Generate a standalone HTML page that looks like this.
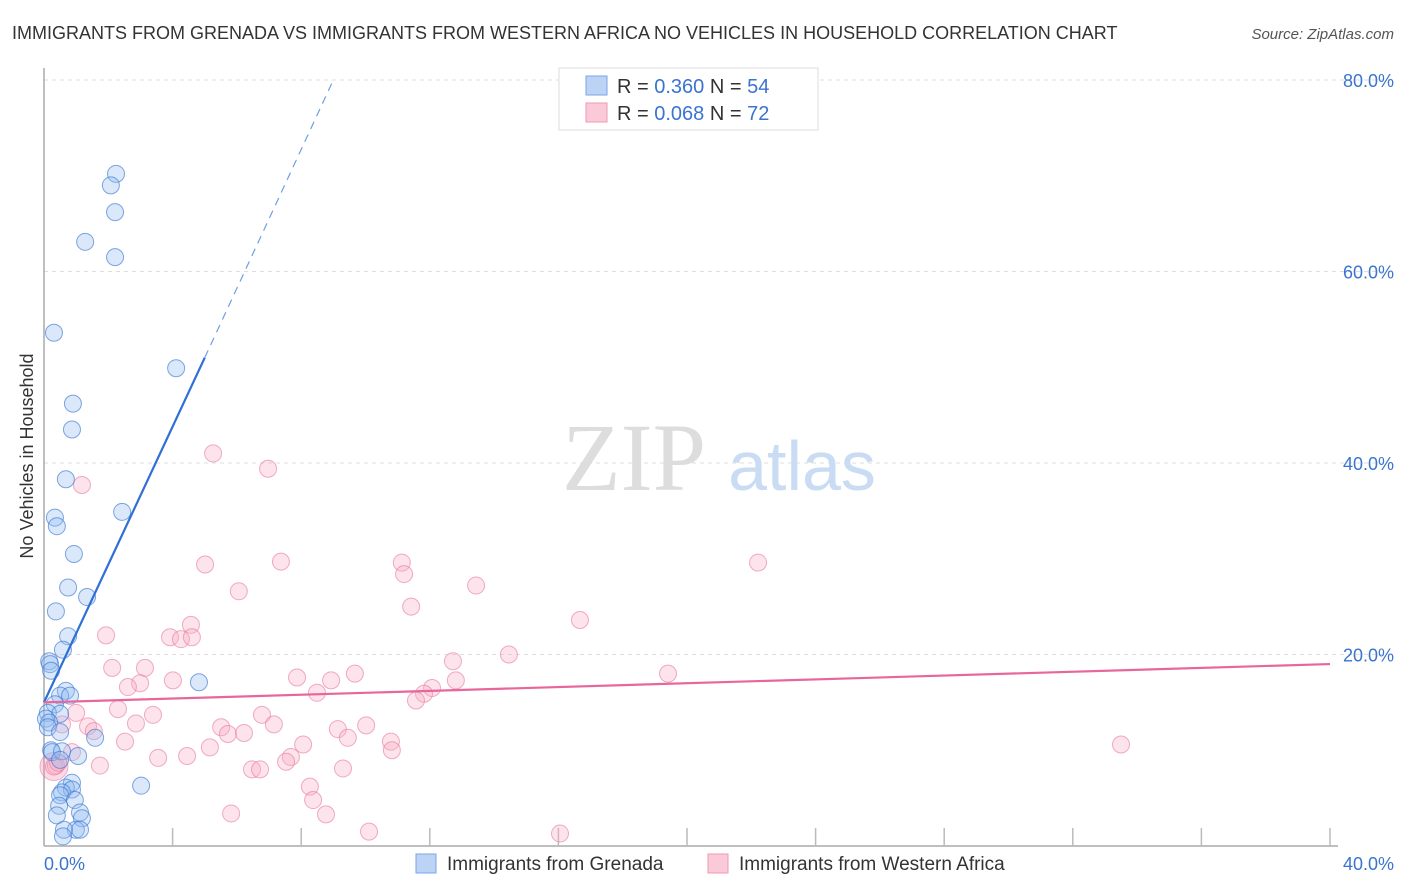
<!DOCTYPE html>
<html><head><meta charset="utf-8"><style>
body{margin:0;background:#fff;font-family:"Liberation Sans",sans-serif;}
svg{display:block}
</style></head><body>
<svg width="1406" height="892" xmlns="http://www.w3.org/2000/svg">
<text x="12" y="39" font-size="18" fill="#333">IMMIGRANTS FROM GRENADA VS IMMIGRANTS FROM WESTERN AFRICA NO VEHICLES IN HOUSEHOLD CORRELATION CHART</text>
<text x="1394" y="39" font-size="15" fill="#555" font-style="italic" text-anchor="end">Source: ZipAtlas.com</text>
<g id="grid"></g>
<text x="634" y="490" font-size="96" fill="#ddd" font-family="Liberation Serif,serif" text-anchor="middle">ZIP</text>
<text x="802" y="490" font-size="70" fill="#c9dcf3" text-anchor="middle">atlas</text>
<line x1="44" y1="68" x2="44" y2="846" stroke="#aaa" stroke-width="1.5"/>
<line x1="44" y1="846" x2="1338" y2="846" stroke="#aaa" stroke-width="1.5"/>
<g id="ticks"></g>
<g id="pts"></g>
<g id="trends"></g>
<text x="33" y="456" font-size="18" fill="#333" text-anchor="middle" transform="rotate(-90 33 456)">No Vehicles in Household</text>
<text x="44" y="870" font-size="18" fill="#3a74d0">0.0%</text>
<text x="1394" y="870" font-size="18" fill="#3a74d0" text-anchor="end">40.0%</text>
<g>
<rect x="559" y="68" width="259" height="62" fill="#fff" stroke="#ddd"/>
<rect x="586" y="76" width="21" height="19" fill="#bcd3f5" stroke="#7aa6e6"/>
<rect x="586" y="103" width="21" height="19" fill="#fbcad8" stroke="#ef9ab5"/>
<text x="617" y="93" font-size="20" fill="#333">R = <tspan fill="#3a74d0">0.360</tspan>   N = <tspan fill="#3a74d0">54</tspan></text>
<text x="617" y="120" font-size="20" fill="#333">R = <tspan fill="#3a74d0">0.068</tspan>   N = <tspan fill="#3a74d0"> 72</tspan></text>
</g>
<g>
<rect x="416" y="854" width="20" height="19" fill="#bcd3f5" stroke="#7aa6e6"/>
<text x="447" y="870" font-size="19" fill="#333">Immigrants from Grenada</text>
<rect x="708" y="854" width="20" height="19" fill="#fbcad8" stroke="#ef9ab5"/>
<text x="739" y="870" font-size="19" fill="#333">Immigrants from Western Africa</text>
</g>
</svg>
<script>
const yTicks=[20,40,60,80];
const yTickLabels=["20.0%","40.0%","60.0%","80.0%"];
const xTicks=[4,8,12,16,20,24,28,32,36,40];
const blueX=[2.24,2.08,2.21,1.28,2.21,0.31,4.11,0.90,0.87,0.68,2.43,0.34,0.40,0.93,0.75,1.34,0.37,0.75,0.59,0.16,0.19,0.22,0.68,0.50,0.81,0.34,0.12,0.50,0.06,0.16,0.12,0.50,1.59,4.82,0.22,0.25,0.56,1.06,0.50,3.02,0.87,0.68,0.87,0.56,0.50,0.96,0.47,1.12,0.40,1.18,0.99,1.12,0.62,0.59];
const blueY=[70.2,69.0,66.2,63.1,61.5,53.6,49.9,46.2,43.5,38.3,34.9,34.3,33.4,30.5,27.0,26.0,24.5,21.9,20.5,19.3,19.0,18.3,16.2,15.7,15.7,14.8,13.9,13.8,13.3,12.9,12.4,11.9,11.3,17.1,10.0,9.8,9.9,9.4,9.0,6.3,6.6,6.1,5.9,5.6,5.3,4.8,4.2,3.5,3.2,2.9,1.7,1.7,1.7,1.0];
const pinkX=[5.26,6.97,1.18,5.01,7.37,11.13,11.20,22.21,13.44,6.06,11.42,16.67,1.93,4.57,3.92,4.26,4.60,14.46,12.72,2.12,3.14,9.67,19.41,7.87,4.01,8.93,12.81,2.99,2.61,8.49,12.07,11.82,11.57,2.30,1.00,6.78,3.39,1.37,2.86,5.51,7.15,5.72,1.55,9.14,10.02,6.22,0.56,9.45,2.52,8.06,10.79,5.16,0.87,4.45,3.55,10.82,7.68,7.53,0.37,1.74,6.47,6.72,9.30,33.50,8.27,8.37,8.77,5.82,10.11,16.05,0.31,0.44];
const pinkY=[41.0,39.4,37.7,29.4,29.7,29.6,28.4,29.6,27.2,26.6,25.0,23.6,22.0,23.1,21.8,21.6,21.8,20.0,19.3,18.6,18.6,18.0,18.0,17.6,17.3,17.3,17.3,17.0,16.6,16.0,16.5,15.9,15.2,14.3,13.9,13.7,13.7,12.5,12.8,12.4,12.7,11.7,12.0,12.2,12.6,11.8,12.7,11.3,10.9,10.6,10.9,10.3,9.8,9.4,9.2,10.0,9.3,8.8,8.4,8.4,8.0,8.0,8.1,10.6,6.2,4.8,3.3,3.4,1.5,1.3,8.3,8.7];
const blueTrend=[0,15.0,5.0,51.0];
const blueDash=[5.0,51.0,9.0,80.0];
const pinkTrend=[0,15.0,40,19.0];
const NS="http://www.w3.org/2000/svg";
const sx=v=>44+v*32.15, sy=v=>846-v*9.575;
function mk(t,a,p){const e=document.createElementNS(NS,t);for(const k in a)e.setAttribute(k,a[k]);document.getElementById(p).appendChild(e);return e;}
yTicks.forEach((v,i)=>{
 const l=mk('line',{x1:44,x2:1394,y1:sy(v),y2:sy(v),stroke:'#ddd','stroke-dasharray':'4,4'},'grid');
 
 
 const t=mk('text',{x:1394,y:sy(v)+7,'font-size':18,fill:'#3a74d0','text-anchor':'end'},'grid');
 t.textContent=yTickLabels[i];
 
 
});
xTicks.forEach(v=>{
 const l=mk('line',{x1:sx(v),x2:sx(v),y1:828,y2:846,stroke:'#bbb','stroke-width':1.5},'ticks');
 
 
});
const big=mk('circle',{cx:sx(pinkX[70]),cy:sy(pinkY[70]),r:14,fill:'rgba(244,150,180,0.35)',stroke:'rgba(230,110,150,0.5)'},'pts');


pinkX.forEach((x,i)=>{
 const c=mk('circle',{cx:sx(x),cy:sy(pinkY[i]),r:8.5,fill:'rgba(248,175,198,0.35)',stroke:'rgba(232,120,155,0.6)','stroke-width':1},'pts');
 
 
});
blueX.forEach((x,i)=>{
 const c=mk('circle',{cx:sx(x),cy:sy(blueY[i]),r:8.5,fill:'rgba(150,190,240,0.35)',stroke:'rgba(60,120,210,0.65)','stroke-width':1},'pts');
 
 
});
let t1=mk('line',{x1:sx(blueTrend[0]),y1:sy(blueTrend[1]),x2:sx(blueTrend[2]),y2:sy(blueTrend[3]),stroke:'#2f6fd6','stroke-width':2.2},'trends');


let t2=mk('line',{x1:sx(blueDash[0]),y1:sy(blueDash[1]),x2:sx(blueDash[2]),y2:sy(blueDash[3]),stroke:'#6f9fe3','stroke-width':1.2,'stroke-dasharray':'8,6'},'trends');


let t3=mk('line',{x1:sx(pinkTrend[0]),y1:sy(pinkTrend[1]),x2:sx(pinkTrend[2]),y2:sy(pinkTrend[3]),stroke:'#e8679a','stroke-width':2.2},'trends');


</script>
</body></html>
